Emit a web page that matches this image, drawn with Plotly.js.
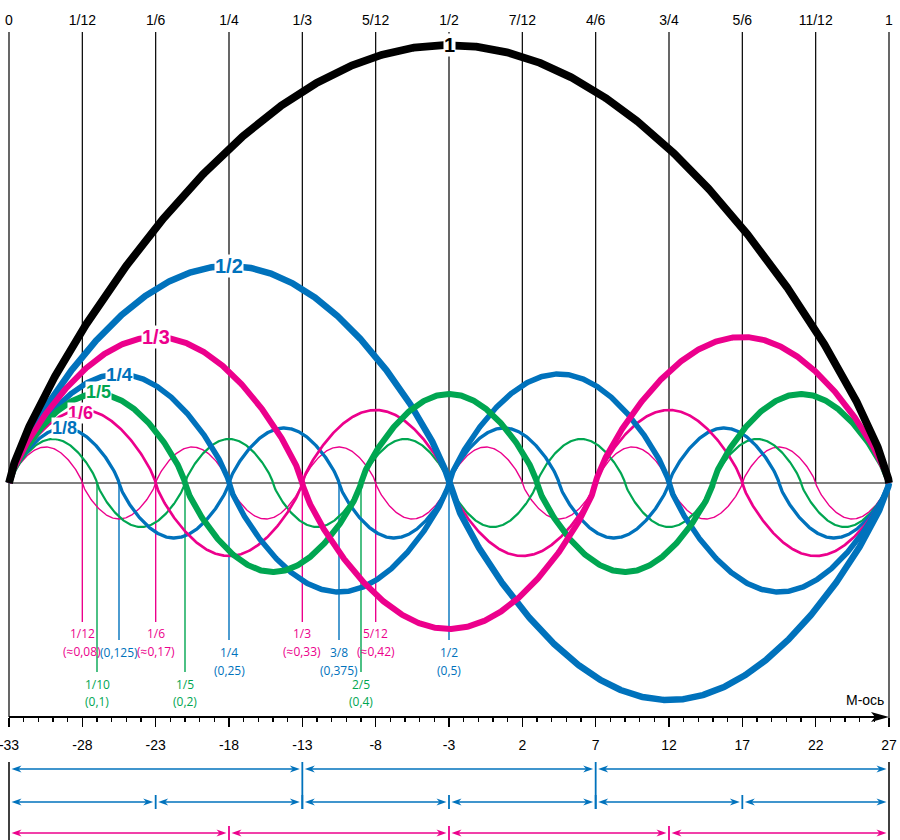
<!DOCTYPE html>
<html><head><meta charset="utf-8">
<script src="https://cdn.plot.ly/plotly-3.0.1.min.js"></script>
<style>html,body{margin:0;padding:0;background:#fff}#chart{width:900px;height:840px}</style>
</head><body><div id="chart"></div>
<script>
// ---------- data ----------
const xStart = -33, xEnd = 27;                 // M-axis range of the string
const bottomTicks = [-33, -28, -23, -18, -13, -8, -3, 2, 7, 12, 17, 22, 27];
const topFractions = [0, 1/12, 1/6, 1/4, 1/3, 5/12, 1/2, 7/12, 2/3, 3/4, 5/6, 11/12, 1];
const topLabels = ['0','1/12','1/6','1/4','1/3','5/12','1/2','7/12','4/6','3/4','5/6','11/12','1'];

const harmN = [1, 2, 3, 4, 5, 6, 8, 10, 12];
const harmAmp = [438, 217, 146, 109, 89, 73, 55, 44, 36];
const harmLabel = ['1','1/2','1/3','1/4','1/5','1/6','1/8','',''];
const humpShape = 0.78;   // hump fullness (1 = pure sine)

const markFrac = [1/12, 1/10, 1/8, 1/6, 1/5, 1/4, 1/3, 3/8, 2/5, 5/12, 1/2];
const markTop = ['1/12','1/10','(0,125)','1/6','1/5','1/4','1/3','3/8','2/5','5/12','1/2'];
const markBottom = ['(≈0,08)','(0,1)','','(≈0,17)','(0,2)','(0,25)','(≈0,33)','(0,375)','(0,4)','(≈0,42)','(0,5)'];
const markGroup = ['12','10','8','12','10','8','12','8','10','12','8'];

const dimRow1 = [-33, -13, 7, 27];
const dimRow2 = [-33, -23, -13, -3, 7, 17, 27];
const dimRow3 = [-33, -18, -3, 12, 27];

// ---------- styles ----------
const BLUE = '#0072BC', MAG = '#EC008C', GREEN = '#00A651', BLACK = '#000000';
const harmColor = [BLACK, BLUE, MAG, BLUE, GREEN, MAG, BLUE, GREEN, MAG];
const harmWidth = [7.8, 6.5, 6, 5.5, 6, 2.7, 3.3, 2.2, 1.4];
const harmFont = [20, 20, 20, 19, 18, 18, 18, 0, 0];
const labelShift = [[0,0],[0,0],[0,0],[0,0],[1,2],[-2,-3],[0,0],[0,0],[0,0]];
const drawOrder = [8, 7, 6, 5, 3, 1, 4, 2, 0];
const groupStyle = {
  '12': {color: MAG,   end: 622, l1: 633, l2: 651},
  '8':  {color: BLUE,  end: 640, l1: 652, l2: 670},
  '10': {color: GREEN, end: 672, l1: 684, l2: 701}
};
const BASE = 483;                // pixel row of the string baseline
const Y = px => BASE - px;      // pixel row -> y data value
const PXX = (xEnd - xStart) / 880; // x data units per pixel
const X = f => xStart + (xEnd - xStart) * f;

const traces = [];
const shapes = [];
const annotations = [];

// vertical fraction lines
topFractions.forEach((f, i) => {
  const isEnd = (i === 0 || i === topFractions.length - 1);
  traces.push({x: [X(f), X(f)], y: [Y(32), isEnd ? Y(i === 0 ? 717 : 727) : 0],
    mode: 'lines', line: {color: BLACK, width: 1.2}, hoverinfo: 'skip', showlegend: false});
  if (isEnd) traces.push({x: [X(f), X(f)], y: [Y(762), Y(840)],
    mode: 'lines', line: {color: BLACK, width: 1.5}, hoverinfo: 'skip', showlegend: false});
});
// baseline
traces.push({x: [xStart, xEnd], y: [0, 0], mode: 'lines', line: {color: BLACK, width: 1.2},
  hoverinfo: 'skip', showlegend: false});

// node marker lines + labels
markFrac.forEach((f, i) => {
  const g = groupStyle[markGroup[i]];
  traces.push({x: [X(f), X(f)], y: [0, Y(g.end)], mode: 'lines',
    line: {color: g.color, width: 1.4}, hoverinfo: 'skip', showlegend: false});
  const font = {family: 'Open Sans, Noto Sans, sans-serif', size: 12, color: g.color};
  annotations.push({x: X(f), y: Y(g.l1), text: markTop[i], showarrow: false, font, xanchor: 'center', yanchor: 'middle'});
  if (markBottom[i]) annotations.push({x: X(f), y: Y(g.l2), text: markBottom[i], showarrow: false, font, xanchor: 'center', yanchor: 'middle'});
});

// harmonic curves
const SAMPLES = 1200;
drawOrder.forEach(k => {
  const xs = [], ys = [];
  for (let s = 0; s <= SAMPLES; s++) {
    const t = s / SAMPLES;
    const v = Math.sin(harmN[k] * Math.PI * t);
    xs.push(X(t));
    ys.push(harmAmp[k] * Math.sign(v) * Math.pow(Math.abs(v), humpShape));
  }
  traces.push({x: xs, y: ys, mode: 'lines', line: {color: harmColor[k], width: harmWidth[k]},
    hoverinfo: 'skip', showlegend: false});
});
harmN.forEach((n, k) => {
  if (!harmLabel[k]) return;
  annotations.push({x: X(1 / (2 * n)), y: harmAmp[k], text: '<b>' + harmLabel[k] + '</b>', showarrow: false,
    font: {family: 'Liberation Sans, Arial, sans-serif', size: harmFont[k], color: harmColor[k]},
    xshift: labelShift[k][0], yshift: labelShift[k][1],
    bgcolor: '#ffffff', borderpad: 0, xanchor: 'center', yanchor: 'middle'});
});

// M-axis line with arrow
traces.push({x: [xStart, xEnd - 14 * PXX], y: [Y(717), Y(717)], mode: 'lines',
  line: {color: BLACK, width: 2}, hoverinfo: 'skip', showlegend: false});
shapes.push({type: 'path', xref: 'x', yref: 'y', fillcolor: BLACK, line: {width: 0},
  path: `M ${xEnd},${Y(717)} L ${xEnd - 18 * PXX},${Y(712)} L ${xEnd - 14 * PXX},${Y(717)} L ${xEnd - 18 * PXX},${Y(722)} Z`});
annotations.push({x: xEnd - 3 * PXX, y: Y(700), text: 'М-ось', showarrow: false, xanchor: 'right', yanchor: 'middle',
  font: {family: 'Liberation Sans, Arial, sans-serif', size: 14, color: BLACK}});

// dimension rows
function arrowHead(xTip, yPx, dir, color) {
  const L = 10 * PXX, N = 7 * PXX;
  shapes.push({type: 'path', xref: 'x', yref: 'y', fillcolor: color, line: {width: 0},
    path: `M ${xTip},${Y(yPx)} L ${xTip - dir * L},${Y(yPx - 3.5)} L ${xTip - dir * N},${Y(yPx)} L ${xTip - dir * L},${Y(yPx + 3.5)} Z`});
}
const rows = [
  {b: dimRow1, y: 769, color: BLUE, next: dimRow2, nextY: 802},
  {b: dimRow2, y: 802, color: BLUE, next: null},
  {b: dimRow3, y: 833, color: MAG, next: null}
];
rows.forEach(r => {
  for (let i = 0; i < r.b.length - 1; i++) {
    const a = r.b[i] + 2.5 * PXX, c = r.b[i + 1] - 2.5 * PXX;
    traces.push({x: [a + 6 * PXX, c - 6 * PXX], y: [Y(r.y), Y(r.y)], mode: 'lines',
      line: {color: r.color, width: 1.4}, hoverinfo: 'skip', showlegend: false});
    arrowHead(a, r.y, -1, r.color);
    arrowHead(c, r.y, 1, r.color);
  }
  r.b.slice(1, -1).forEach(v => {
    const bottom = (r.next && r.next.includes(v)) ? r.nextY + 7 : r.y + 7;
    traces.push({x: [v, v], y: [Y(r.y - 7), Y(bottom)], mode: 'lines',
      line: {color: r.color, width: 1.8}, hoverinfo: 'skip', showlegend: false});
  });
});

const range = [xStart - 9 * PXX, xEnd + 11 * PXX];
const layout = {
  width: 900, height: 840,
  margin: {l: 0, r: 0, t: 0, b: 0, pad: 0},
  paper_bgcolor: '#ffffff', plot_bgcolor: '#ffffff',
  showlegend: false,
  xaxis: {range, fixedrange: true, showgrid: false, zeroline: false, showline: false,
    anchor: 'free', position: (840 - 717) / 840,
    tickmode: 'array', tickvals: bottomTicks, ticktext: bottomTicks.map(v => String(v)),
    ticks: 'outside', ticklen: 9, tickwidth: 1.5, tickcolor: BLACK,
    ticklabelstandoff: 6, ticklabeloverflow: 'allow',
    minor: {ticks: 'outside', tickmode: 'linear', tick0: -33, dtick: 1, ticklen: 4, tickwidth: 1.2, tickcolor: BLACK, showgrid: false},
    tickfont: {family: 'Liberation Sans, Arial, sans-serif', size: 14, color: BLACK}},
  xaxis2: {range, overlaying: 'x', side: 'top', anchor: 'free', position: (840 - 32) / 840,
    fixedrange: true, showgrid: false, zeroline: false, showline: false, ticks: '',
    tickmode: 'array', tickvals: topFractions.map(X), ticktext: topLabels, ticklabelstandoff: 4,
    ticklabeloverflow: 'allow',
    tickfont: {family: 'Liberation Sans, Arial, sans-serif', size: 14, color: BLACK}},
  yaxis: {range: [Y(840), Y(0)], fixedrange: true, visible: false, showgrid: false, zeroline: false},
  shapes, annotations
};
// invisible trace to activate the top axis
traces.push({x: [xStart], y: [Y(900)], xaxis: 'x2', mode: 'markers', marker: {opacity: 0}, hoverinfo: 'skip', showlegend: false});
Plotly.newPlot('chart', traces, layout, {displayModeBar: false, staticPlot: true});
</script>
</body></html>
